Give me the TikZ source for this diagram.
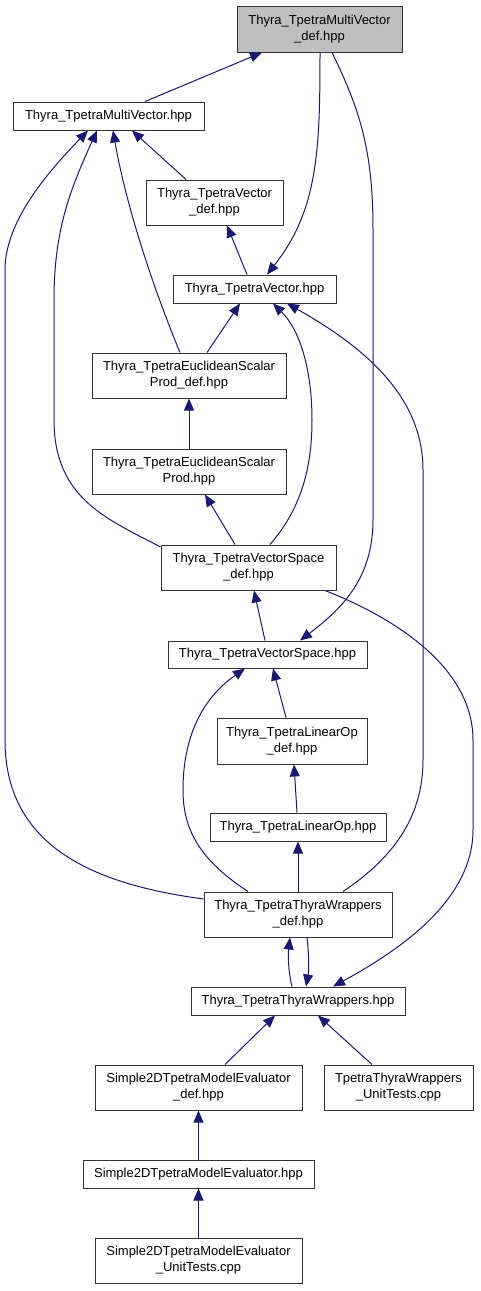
\documentclass[tikz,border=0pt]{standalone}
\usepackage{fontspec}
\setmainfont{Liberation Sans}
\usetikzlibrary{arrows.meta}
\definecolor{edgeblue}{RGB}{25,25,112}
\definecolor{hlgray}{RGB}{191,191,191}
\begin{document}
\begin{tikzpicture}[x=1pt,y=-1pt,
  box/.style={draw=black!80, line width=1pt, rectangle, inner sep=0pt, align=center,
    font=\fontsize{13}{16}\selectfont},
  edge/.style={draw=edgeblue, line width=1pt, -{Triangle[length=12pt,width=10pt]}}]
\useasboundingbox (0,0) rectangle (480,1291);
\node[box, fill=hlgray, minimum width=165pt, minimum height=46pt] (MVdef) at (319.5,29) {Thyra\_TpetraMultiVector\\\_def.hpp};
\node[box, minimum width=191pt, minimum height=28pt] (MV) at (108.5,116) {Thyra\_TpetraMultiVector.hpp};
\node[box, minimum width=137pt, minimum height=45pt] (Vdef) at (214.5,202.5) {Thyra\_TpetraVector\\\_def.hpp};
\node[box, minimum width=163pt, minimum height=28pt] (V) at (254.5,289) {Thyra\_TpetraVector.hpp};
\node[box, minimum width=194pt, minimum height=45pt] (ESPdef) at (189,375.5) {Thyra\_TpetraEuclideanScalar\\Prod\_def.hpp};
\node[box, minimum width=194pt, minimum height=45pt] (ESP) at (189,471.5) {Thyra\_TpetraEuclideanScalar\\Prod.hpp};
\node[box, minimum width=175pt, minimum height=45pt] (VSdef) at (248.5,567.5) {Thyra\_TpetraVectorSpace\\\_def.hpp};
\node[box, minimum width=199pt, minimum height=27pt] (VS) at (267.5,654.5) {Thyra\_TpetraVectorSpace.hpp};
\node[box, minimum width=150pt, minimum height=46pt] (LOdef) at (292,741) {Thyra\_TpetraLinearOp\\\_def.hpp};
\node[box, minimum width=176pt, minimum height=28pt] (LO) at (298,827) {Thyra\_TpetraLinearOp.hpp};
\node[box, minimum width=188pt, minimum height=45pt] (TWdef) at (298,914.5) {Thyra\_TpetraThyraWrappers\\\_def.hpp};
\node[box, minimum width=214pt, minimum height=28pt] (TW) at (298,1001) {Thyra\_TpetraThyraWrappers.hpp};
\node[box, minimum width=207pt, minimum height=45pt] (S2Ddef) at (198.5,1087.5) {Simple2DTpetraModelEvaluator\\\_def.hpp};
\node[box, minimum width=149pt, minimum height=45pt] (TTWUT) at (398.5,1087.5) {TpetraThyraWrappers\\\_UnitTests.cpp};
\node[box, minimum width=231pt, minimum height=28pt] (S2D) at (198.5,1174) {Simple2DTpetraModelEvaluator.hpp};
\node[box, minimum width=207pt, minimum height=45pt] (S2DUT) at (198.5,1260.5) {Simple2DTpetraModelEvaluator\\\_UnitTests.cpp};

\draw[edge] (MV.north -| 145,0) -- (MVdef.south -| 262,0);
\draw[edge] (TWdef.west |- 0,899) .. controls (100,885) and (5,850) .. (5,740) -- (5,270) .. controls (5,220) and (50,170) .. (MV.south -| 88,0);
\draw[edge] (VSdef.west |- 0,547) .. controls (110,520) and (54,500) .. (54,420) -- (54,300) .. controls (54,230) and (70,190) .. (MV.south -| 97,0);
\draw[edge] (ESPdef.north -| 180,0) .. controls (150,280) and (125,200) .. (MV.south -| 113,0);
\draw[edge] (Vdef.north -| 186,0) -- (MV.south -| 132,0);
\draw[edge] (V.north -| 247,0) -- (Vdef.south -| 227,0);
\draw[edge] (MVdef.south -| 320,0) .. controls (320,150) and (318,210) .. (V.north -| 267,0);
\draw[edge] (MVdef.south -| 332,0) .. controls (360,110) and (373,150) .. (373,230) -- (373,520) .. controls (373,580) and (340,610) .. (VS.north -| 300,0);
\draw[edge] (ESPdef.north -| 207,0) -- (V.south -| 240,0);
\draw[edge] (VSdef.north -| 270,0) .. controls (300,510) and (312,470) .. (312,420) .. controls (312,370) and (300,330) .. (V.south -| 273,0);
\draw[edge] (TWdef.north -| 343,0) .. controls (390,860) and (423,820) .. (423,760) -- (423,470) .. controls (423,400) and (370,350) .. (V.south -| 287,0);
\draw[edge] (ESP.north) -- (ESPdef.south);
\draw[edge] (VSdef.north -| 235,0) -- (ESP.south -| 205,0);
\draw[edge] (VS.north -| 265,0) -- (VSdef.south -| 254,0);
\draw[edge] (VSdef.south -| 325,0) .. controls (400,620) and (473,670) .. (473,740) -- (473,830) .. controls (473,900) and (400,950) .. (TW.north -| 333,0);
\draw[edge] (TWdef.north -| 248,0) .. controls (200,860) and (183,830) .. (183,790) .. controls (183,740) and (200,700) .. (VS.south -| 245,0);
\draw[edge] (LOdef.north -| 286,0) -- (VS.south -| 273,0);
\draw[edge] (LO.north -| 297,0) -- (LOdef.south -| 294,0);
\draw[edge] (TWdef.north) -- (LO.south);
\draw[edge] (TW.north -| 292,0) .. controls (288,970) and (288,955) .. (TWdef.south -| 290,0);
\draw[edge] (TWdef.south -| 307,0) .. controls (309,955) and (309,970) .. (TW.north -| 306,0);
\draw[edge] (S2Ddef.north -| 225,0) -- (TW.south -| 275,0);
\draw[edge] (TTWUT.north -| 372,0) -- (TW.south -| 318,0);
\draw[edge] (S2D.north) -- (S2Ddef.south);
\draw[edge] (S2DUT.north) -- (S2D.south);
\end{tikzpicture}
\end{document}
